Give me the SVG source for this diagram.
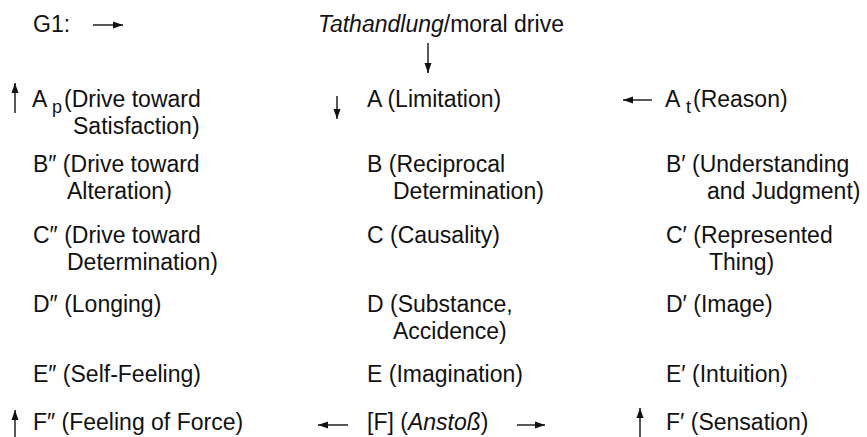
<svg xmlns="http://www.w3.org/2000/svg" width="867" height="437" viewBox="0 0 867 437">
<style>
text{font-family:"Liberation Sans",Arial,sans-serif;font-size:23px;fill:#111}
.it{font-style:italic}
.sub{font-size:18px}
.arr{stroke:#111;stroke-width:1.4;fill:none}
</style>
<defs>
<marker id="ah" markerUnits="userSpaceOnUse" markerWidth="11" markerHeight="9" refX="10" refY="4.5" orient="auto">
<path d="M0,1 L10,4.5 L0,8 Z" fill="#111"/>
</marker>
</defs>
<rect width="867" height="437" fill="#fff"/>
<g id="g1"><text x="33" y="32">G1:</text></g>
<g id="tathandlung"><text x="318" y="32"><tspan class="it">Tathandlung</tspan>/moral drive</text></g>
<g id="Ap"><text x="32" y="107">A</text><text class="sub" x="52" y="113">p</text><text x="64" y="107">(Drive toward</text><text x="73" y="134">Satisfaction)</text></g>
<g id="A"><text x="367" y="107">A (Limitation)</text></g>
<g id="At"><text x="665" y="107">A</text><text class="sub" x="686" y="113">t</text><text x="693" y="107">(Reason)</text></g>
<g id="B2"><text x="33" y="172">B″ (Drive toward</text><text x="67" y="199">Alteration)</text></g>
<g id="B"><text x="367" y="172">B (Reciprocal</text><text x="393" y="199">Determination)</text></g>
<g id="B1"><text x="666" y="172">B′ (Understanding</text><text x="707" y="199">and Judgment)</text></g>
<g id="C2"><text x="33" y="243">C″ (Drive toward</text><text x="67" y="270">Determination)</text></g>
<g id="C"><text x="367" y="243">C (Causality)</text></g>
<g id="C1"><text x="666" y="243">C′ (Represented</text><text x="709" y="270">Thing)</text></g>
<g id="D2"><text x="33" y="312">D″ (Longing)</text></g>
<g id="D"><text x="367" y="312">D (Substance,</text><text x="393" y="339">Accidence)</text></g>
<g id="D1"><text x="666" y="312">D′ (Image)</text></g>
<g id="E2"><text x="33" y="382">E″ (Self-Feeling)</text></g>
<g id="E"><text x="367" y="382">E (Imagination)</text></g>
<g id="E1"><text x="666" y="382">E′ (Intuition)</text></g>
<g id="F2"><text x="33" y="430">F″ (Feeling of Force)</text></g>
<g id="F"><text x="367" y="430">[F] (<tspan class="it">Anstoß</tspan>)</text></g>
<g id="F1"><text x="666" y="430">F′ (Sensation)</text></g>
<g id="connectors">
<line class="arr" x1="93" y1="25" x2="123" y2="25" marker-end="url(#ah)"/>
<line class="arr" x1="428" y1="43" x2="428" y2="73" marker-end="url(#ah)"/>
<line class="arr" x1="15" y1="113" x2="15" y2="83" marker-end="url(#ah)"/>
<line class="arr" x1="337" y1="96" x2="337" y2="119" marker-end="url(#ah)"/>
<line class="arr" x1="652" y1="100" x2="623" y2="100" marker-end="url(#ah)"/>
<line class="arr" x1="15" y1="440" x2="15" y2="410" marker-end="url(#ah)"/>
<line class="arr" x1="348" y1="425" x2="318" y2="425" marker-end="url(#ah)"/>
<line class="arr" x1="517" y1="425" x2="545" y2="425" marker-end="url(#ah)"/>
<line class="arr" x1="640" y1="440" x2="640" y2="408" marker-end="url(#ah)"/>
</g>
</svg>
